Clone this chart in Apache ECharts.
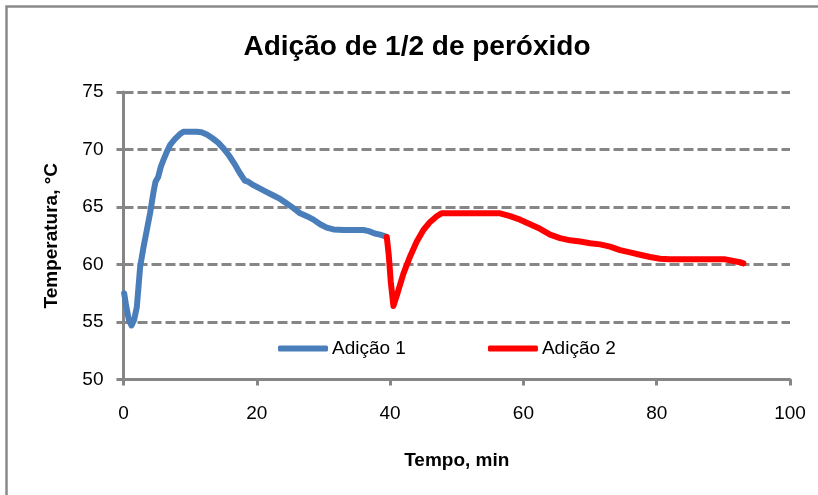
<!DOCTYPE html>
<html>
<head>
<meta charset="utf-8">
<script src="https://cdn.jsdelivr.net/npm/echarts@6/dist/echarts.min.js"></script>
<style>
  html, body { margin: 0; padding: 0; background: #fff; }
  #chart { width: 818px; height: 495px; }
</style>
</head>
<body>
<div id="chart"></div>
<script>
// Temperature record for the first and second peroxide additions
const time1 = [0.1, 0.4, 0.8, 1.2, 1.6, 2.0, 2.5, 3.0, 3.5, 4.0, 4.5, 4.8, 5.2, 5.6, 6.0, 6.5, 7.0, 7.7, 8.4, 9.0,
  10.0, 11.0, 11.7, 12.5, 13.3, 14.2, 15.0, 15.8, 16.6, 17.4, 18.2, 18.7, 19.5, 20.5, 21.5, 22.5, 23.5, 24.5,
  25.5, 26.5, 27.5, 28.5, 29.5, 30.5, 31.5, 33.0, 34.5, 36.0, 36.8, 37.7, 38.5, 39.3];
const temp1 = [57.5, 56.4, 55.2, 54.7, 55.2, 56.3, 59.8, 61.5, 63.0, 64.5, 66.3, 67.2, 67.6, 68.5, 69.1, 69.8, 70.4, 70.9, 71.3, 71.55,
  71.55, 71.55, 71.5, 71.3, 71.0, 70.6, 70.1, 69.5, 68.8, 68.0, 67.3, 67.2, 66.9, 66.6, 66.3, 66.0, 65.7, 65.3,
  64.9, 64.45, 64.2, 63.9, 63.5, 63.2, 63.05, 63.0, 63.0, 63.0, 62.9, 62.7, 62.6, 62.45];

const time2 = [39.5, 39.8, 40.1, 40.5, 41.0, 42.0, 43.0, 44.0, 45.0, 46.0, 47.0, 47.7, 50.0, 53.0, 56.5, 58.0,
  59.5, 61.0, 62.5, 64.0, 65.5, 67.0, 68.5, 70.0, 71.5, 73.0, 74.5, 76.0, 77.5, 79.0, 80.5, 82.0, 85.0, 88.0,
  90.3, 91.5, 92.5, 93.0];
const temp2 = [62.4, 60.8, 58.5, 56.4, 57.3, 59.2, 60.7, 62.0, 63.0, 63.7, 64.2, 64.45, 64.45, 64.45, 64.45, 64.2,
  63.9, 63.5, 63.1, 62.6, 62.3, 62.1, 62.0, 61.85, 61.75, 61.55, 61.25, 61.05, 60.85, 60.65, 60.5, 60.45, 60.45, 60.45,
  60.45, 60.3, 60.2, 60.1];

const seriesNames = ['Adição 1', 'Adição 2'];
const seriesColors = ['#4a7ebb', '#ff0000'];
const xTicks = { min: 0, max: 100, interval: 20 };
const yTicks = { min: 50, max: 75, interval: 5 };

const FONT = 'Liberation Sans';
const AXIS_GRAY = '#868686';

const pairs = (xs, ys) => xs.map((x, i) => [x, ys[i]]);

const chart = echarts.init(document.getElementById('chart'), null, { renderer: 'canvas' });

chart.setOption({
  backgroundColor: '#ffffff',
  animation: false,
  textStyle: { fontFamily: FONT },
  graphic: [
    {
      type: 'rect',
      shape: { x: 6.5, y: 6.5, width: 900, height: 600 },
      style: { fill: 'none', stroke: '#8a8a8a', lineWidth: 2.5 },
      silent: true
    },
    {
      type: 'text',
      style: {
        x: 417, y: 47,
        text: 'Adição de 1/2 de peróxido',
        fontFamily: FONT, fontSize: 28, fontWeight: 'bold',
        fill: '#000', align: 'center', verticalAlign: 'middle'
      }
    }
  ],
  grid: { left: 123.5, right: 28, top: 92, bottom: 115.5, containLabel: false },
  legend: {
    left: 273, top: 334,
    itemWidth: 50, itemHeight: 6, itemGap: 82,
    icon: 'roundRect',
    textStyle: { fontFamily: FONT, fontSize: 19, color: '#000', padding: [0, 0, 0, -1] },
    data: seriesNames
  },
  xAxis: {
    type: 'value',
    min: xTicks.min, max: xTicks.max, interval: xTicks.interval,
    name: 'Tempo, min',
    nameLocation: 'middle', nameGap: 72,
    nameTextStyle: { fontFamily: FONT, fontSize: 19, fontWeight: 'bold', color: '#000' },
    axisLine: { show: true, onZero: false, lineStyle: { color: AXIS_GRAY, width: 3 } },
    axisTick: { show: true, length: 6, lineStyle: { color: AXIS_GRAY, width: 3 } },
    axisLabel: { margin: 25, fontFamily: FONT, fontSize: 19, color: '#000' },
    splitLine: { show: false }
  },
  yAxis: {
    type: 'value',
    min: yTicks.min, max: yTicks.max, interval: yTicks.interval,
    name: 'Temperatura, °C',
    nameLocation: 'middle', nameGap: 62, nameRotate: 90,
    nameTextStyle: { fontFamily: FONT, fontSize: 19, fontWeight: 'bold', color: '#000' },
    axisLine: { show: true, lineStyle: { color: AXIS_GRAY, width: 3 } },
    axisTick: { show: true, length: 7, lineStyle: { color: AXIS_GRAY, width: 3 } },
    axisLabel: { margin: 20, fontFamily: FONT, fontSize: 19, color: '#000' },
    splitLine: { show: true, lineStyle: { color: AXIS_GRAY, width: 3, type: [10, 4] } }
  },
  series: [
    {
      name: seriesNames[0], type: 'line', data: pairs(time1, temp1),
      showSymbol: false, symbol: 'none',
      lineStyle: { color: seriesColors[0], width: 6, cap: 'round', join: 'round' },
      itemStyle: { color: seriesColors[0] }
    },
    {
      name: seriesNames[1], type: 'line', data: pairs(time2, temp2),
      showSymbol: false, symbol: 'none',
      lineStyle: { color: seriesColors[1], width: 6, cap: 'round', join: 'round' },
      itemStyle: { color: seriesColors[1] }
    }
  ]
});
</script>
</body>
</html>
